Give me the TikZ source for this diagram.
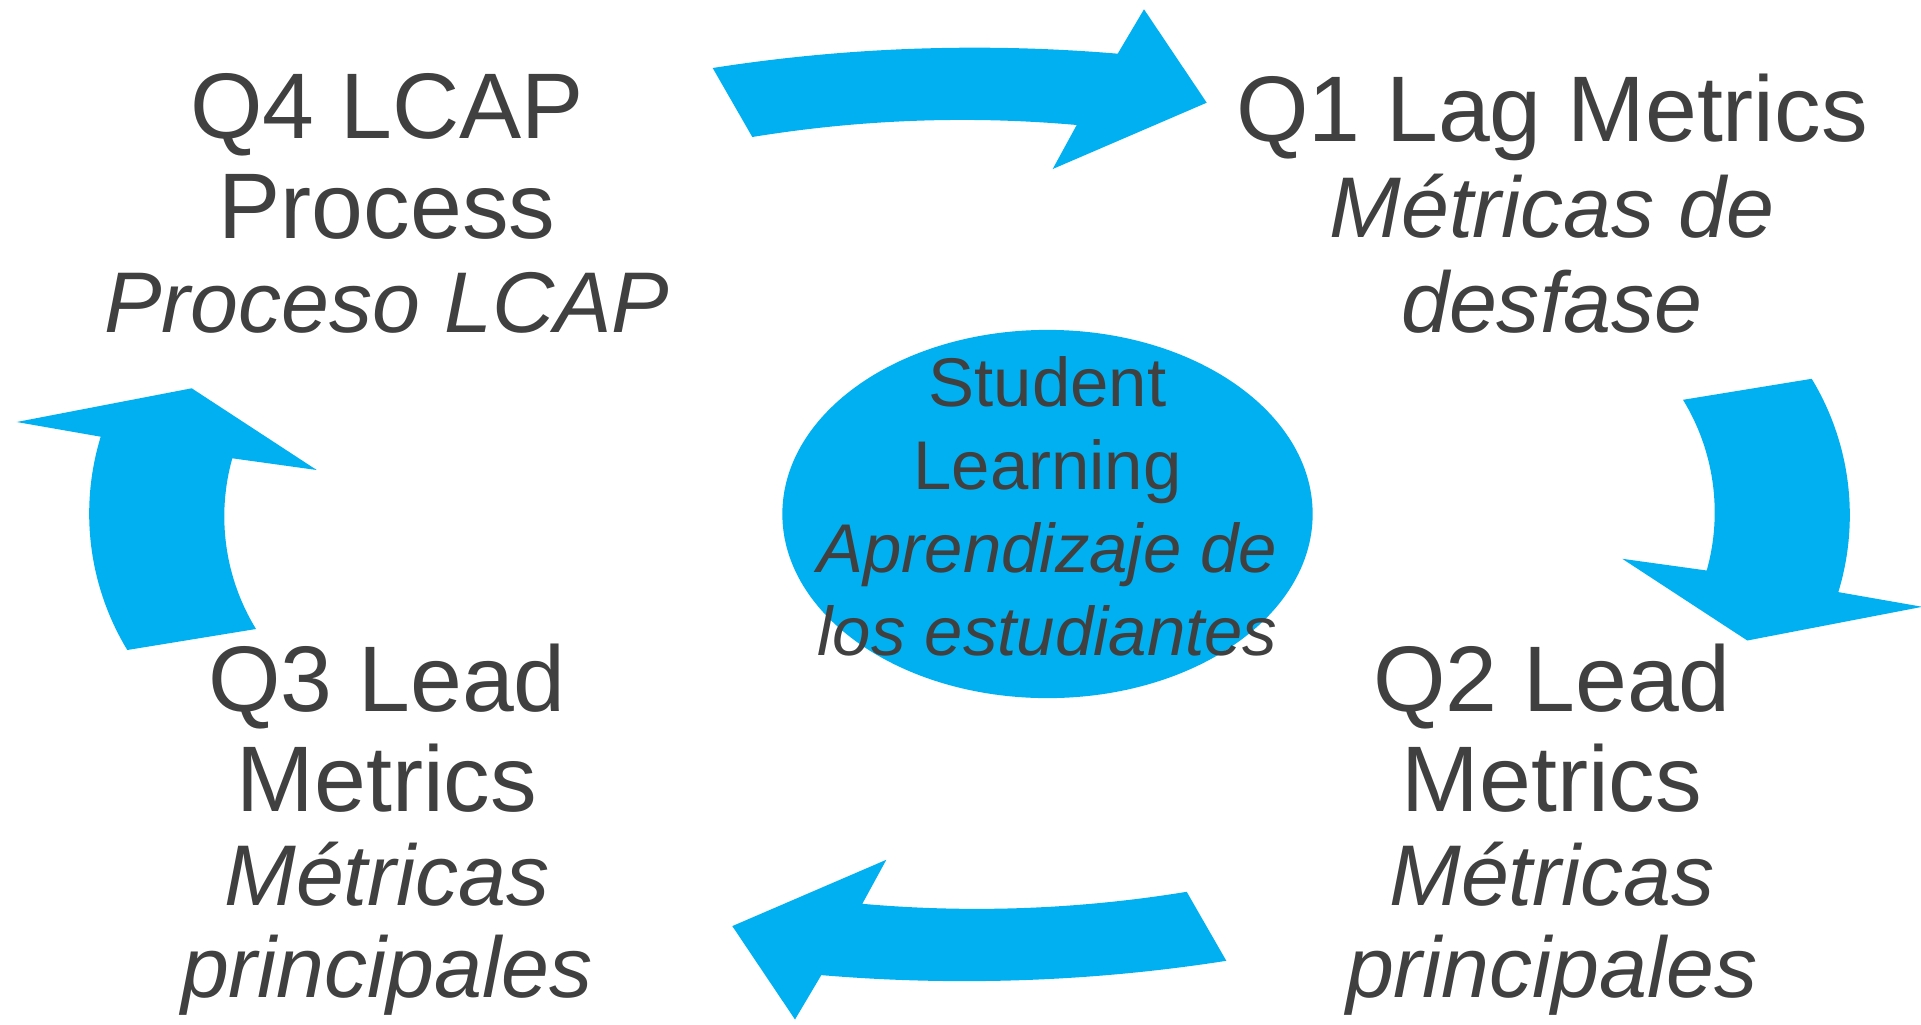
\documentclass[tikz,border=0pt]{standalone}
\usepackage{fontspec}
\setmainfont{Liberation Sans}
\usepackage{tikz}
\usetikzlibrary{shapes.geometric}
\definecolor{CycleBlue}{HTML}{00B0F0}
\definecolor{InkGray}{HTML}{404040}
\newcommand{\esline}[1]{{\fontsize{24.5}{28.45}\selectfont\itshape #1}}

\begin{document}
\begin{tikzpicture}[x=0.01cm, y=-0.01cm,
      quarter/.style={text=InkGray, align=center, inner sep=0pt, anchor=north,
                      font=\fontsize{26.5}{28.45}\selectfont},
      core/.style={ellipse, fill=CycleBlue, minimum width=5.3cm, minimum height=3.68cm, inner sep=0pt},
      coretext/.style={text=InkGray, align=center, inner sep=0pt, anchor=north,
                       font=\fontsize{19.6}{23.6}\selectfont},
      flow/.style={fill=CycleBlue}]
      \useasboundingbox (0,0) rectangle (1921,1024);
      % Curved arrows (second pair is the first turned half way round)
      \foreach \turn in {0,180} {
        \fill[flow, rotate around={\turn:(969.5,514.4)}]
          (712.7,68) .. controls (846.5,47.1) and (982.8,42.3) .. (1117.7,53.7)
          -- (1144,9.3) -- (1206.7,102.7) -- (1052.7,169) -- (1076.7,125)
          .. controls (968.4,115.4) and (859.6,119.5) .. (752.3,137) -- cycle;
        \fill[flow, rotate around={\turn:(969.5,514.4)}]
          (16.7,422) -- (191.7,388.3) -- (316.7,470) -- (232.3,458.3)
          .. controls (216.1,516) and (224.7,577.9) .. (256,629) -- (127.3,650)
          .. controls (88.4,585.8) and (78.8,508.4) .. (100.7,436.7) -- cycle;
      }
      % Centre
      \node[core] (hub) at (1047.5,514) {};
      \node[coretext] (hubtext) at (1047.5,356) {Student\\Learning\\{\itshape Aprendizaje de}\\{\itshape los estudiantes}};
      % Quarters
      \node[quarter] (q4) at (387,73)   {Q4 LCAP\\Process\\[-1.7pt]\esline{Proceso LCAP}};
      \node[quarter] (q1) at (1552,73)  {Q1 Lag Metrics\\[-1pt]\esline{Métricas de}\\[-1.5pt]\esline{desfase}};
      \node[quarter] (q2) at (1552,643) {Q2 Lead\\Metrics\\[-1.7pt]\esline{Métricas}\\[-2.3pt]\esline{principales}};
      \node[quarter] (q3) at (387,643)  {Q3 Lead\\Metrics\\[-1.7pt]\esline{Métricas}\\[-2.3pt]\esline{principales}};
    \end{tikzpicture}
\end{document}
